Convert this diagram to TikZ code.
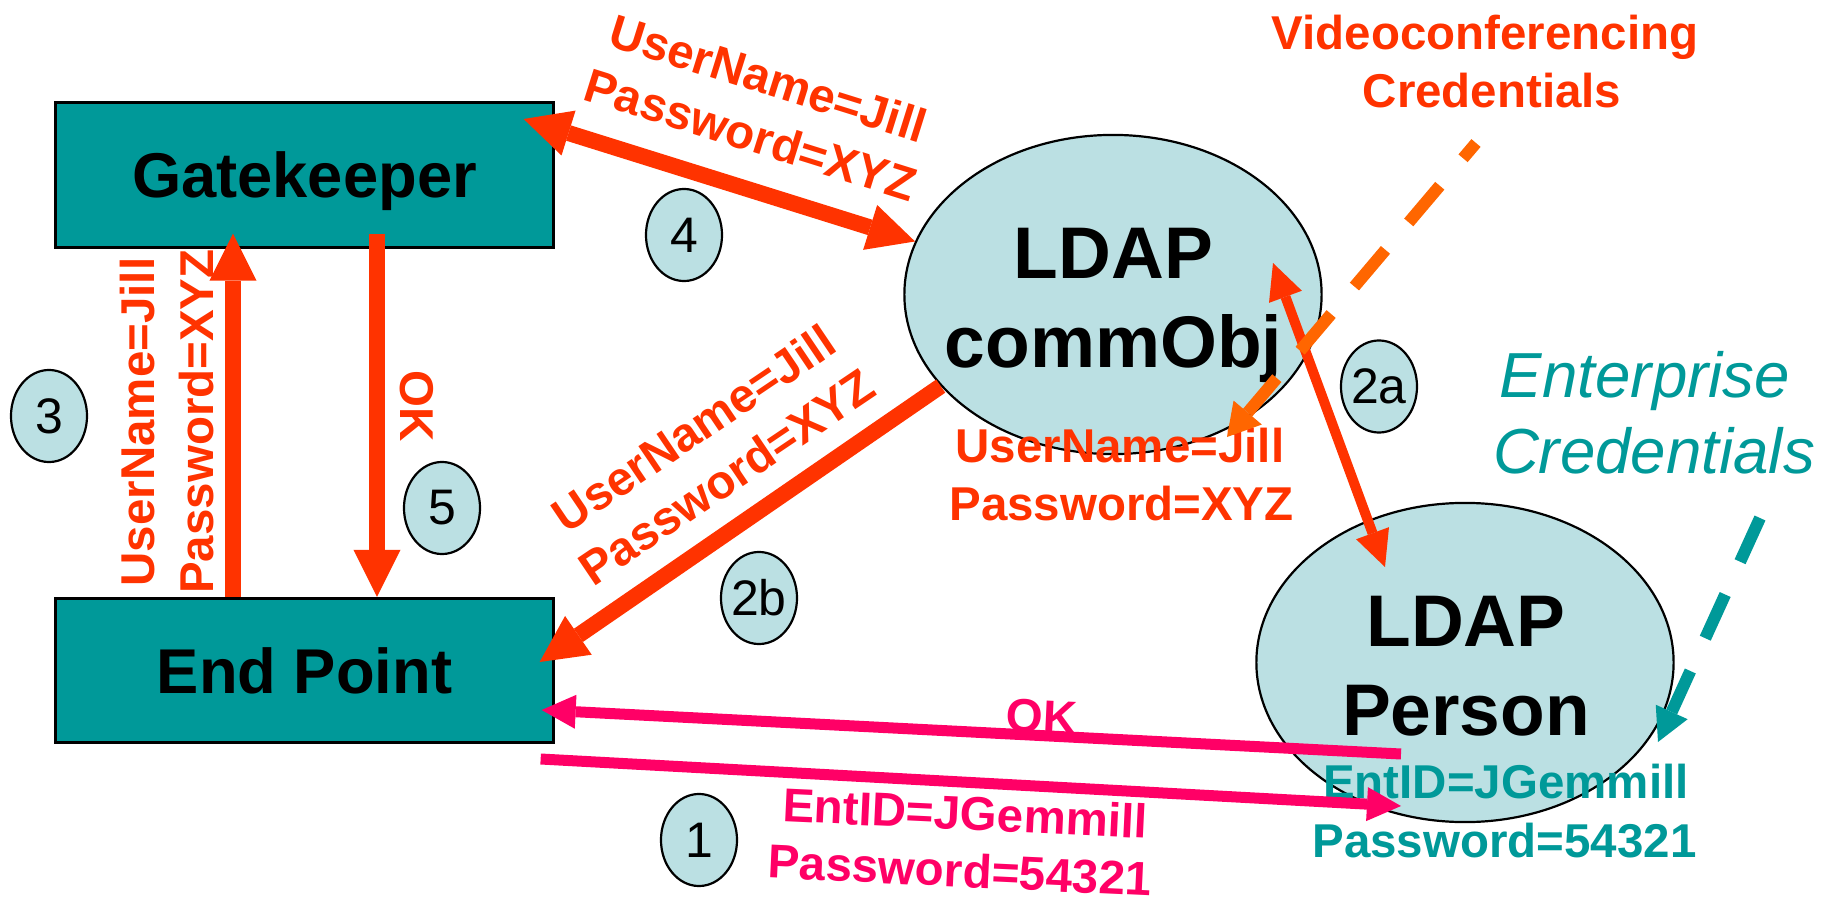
\documentclass[tikz,border=0pt]{standalone}
\usepackage{fontspec}
\setmainfont{Liberation Sans}
\usetikzlibrary{arrows.meta,shapes.geometric}

\definecolor{tealbox}{HTML}{009999}
\definecolor{ldapfill}{HTML}{BBE0E3}
\definecolor{redarr}{HTML}{FF3300}
\definecolor{orangearr}{HTML}{FF6600}
\definecolor{pinkarr}{HTML}{FF0066}

\begin{document}
\begin{tikzpicture}[x=0.01cm,y=-0.01cm,
  box/.style={draw=black, line width=0.03cm, fill=tealbox, minimum width=4.97cm,
    minimum height=1.44cm, inner sep=0pt, text depth=0pt,
    font=\fontsize{18pt}{22pt}\selectfont\bfseries},
  ldapell/.style={ellipse, draw=black, line width=0.022cm, fill=ldapfill,
    minimum width=4.17cm, minimum height=3.19cm, inner sep=0pt},
  numell/.style={ellipse, draw=black, line width=0.022cm, fill=ldapfill,
    minimum width=0.76cm, minimum height=0.92cm, inner sep=0pt},
  numtxt/.style={inner sep=0pt, font=\fontsize{14.2pt}{17pt}\selectfont},
  bigtxt/.style={inner sep=0pt, anchor=base, font=\fontsize{20.8pt}{25pt}\selectfont\bfseries},
  lbl/.style={inner sep=0pt, anchor=base, font=\fontsize{13.5pt}{16pt}\selectfont\bfseries},
  enttxt/.style={inner sep=0pt, anchor=base, text=tealbox, font=\fontsize{18.1pt}{22pt}\selectfont\itshape},
  redthick/.style={draw=redarr, line width=0.16cm,
    -{Triangle[length=0.47cm,width=0.47cm,line width=0pt]}},
  redboth/.style={draw=redarr, line width=0.16cm,
    {Triangle[length=0.47cm,width=0.47cm,line width=0pt]}-{Triangle[length=0.47cm,width=0.47cm,line width=0pt]}},
  redthin/.style={draw=redarr, line width=0.10cm,
    {Triangle[length=0.36cm,width=0.35cm,line width=0pt]}-{Triangle[length=0.36cm,width=0.35cm,line width=0pt]}},
  pinkline/.style={draw=pinkarr, line width=0.11cm,
    -{Triangle[length=0.34cm,width=0.34cm,line width=0pt]}},
  orangedash/.style={draw=orangearr, line width=0.12cm,
    dash pattern=on 0.48cm off 0.36cm, dash phase=0.28cm,
    -{Triangle[length=0.32cm,width=0.37cm,line width=0pt]}},
  tealdash/.style={draw=tealbox, line width=0.12cm,
    dash pattern=on 0.48cm off 0.36cm,
    -{Triangle[length=0.33cm,width=0.35cm,line width=0pt]}}
]
\useasboundingbox (0,0) rectangle (1838,900);
\fill[white] (0,0) rectangle (1838,900);

% boxes
\node[box] (gk) at (304.5,175) {Gatekeeper};
\node[box] (ep) at (304.5,670.5) {End Point};

% LDAP objects
\node[ldapell] (cobj) at (1113,294.5) {};
\node[bigtxt] (cobjA) at (1113.5,278) {LDAP};
\node[bigtxt] (cobjB) at (1113.5,367) {commObj};

\node[ldapell] (pers) at (1465,662.5) {};
\node[bigtxt] (persA) at (1466,646) {LDAP};
\node[bigtxt] (persB) at (1466,735) {Person};

% free ends of the dashed pointers
\coordinate (vcTail) at (1476,143);
\coordinate (entTail) at (1760,518);

% message arrows
\draw[redthick] ([shift={(-71.5,0)}]ep.north) -- ([shift={(-71.5,-15)}]gk.south);
\draw[redthick] ([shift={(72.5,-15)}]gk.south) -- ([shift={(72.5,0)}]ep.north);
\draw[redboth] ([shift={(-31,-56)}]gk.east) -- (cobj.165);
\draw[redthick] (cobj.208) -- ([shift={(-15,-8.5)}]ep.east);
\draw[redthin] ([shift={(160,-31.5)}]cobj.center) -- ([shift={(-80,-95.5)}]pers.center);

% labels
\node[lbl, text=redarr, rotate=90] (l3a) at (154,422) {UserName=Jill};
\node[lbl, text=redarr, rotate=90] (l3b) at (213,421.5) {Password=XYZ};
\node[lbl, text=redarr, rotate=-90] (l5) at (400,406) {OK};
\node[lbl, text=redarr, rotate=-17.4] (l4a) at (763.6,94.2) {UserName=Jill};
\node[lbl, text=redarr, rotate=-17.4] (l4b) at (746,150.5) {Password=XYZ};
\node[lbl, text=redarr, rotate=34] (l2ba) at (702.9,442.2) {UserName=Jill};
\node[lbl, text=redarr, rotate=34] (l2bb) at (736.3,490.8) {Password=XYZ};
\node[lbl, text=redarr] (lca) at (1120,462) {UserName=Jill};
\node[lbl, text=redarr] (lcb) at (1121.5,520) {Password=XYZ};
\node[lbl, text=redarr] (vca) at (1485,50) {Videoconferencing};
\node[lbl, text=redarr] (vcb) at (1492,107) {Credentials};
\node[enttxt] (enta) at (1645,397) {Enterprise};
\node[enttxt] (entb) at (1654,473) {Credentials};
\node[lbl, text=tealbox] (lpa) at (1506,798) {EntID=JGemmill};
\node[lbl, text=tealbox] (lpb) at (1504.5,857) {Password=54321};

% dashed pointers
\draw[orangedash] (vcTail) -- ([shift={(114,142.5)}]cobj.center);
\draw[tealdash] (entTail) -- ([shift={(193,79.5)}]pers.center);

% enterprise login exchange
\draw[pinkline] ([shift={(-64,91.5)}]pers.center) -- ([shift={(-13,39.5)}]ep.east);
\draw[pinkline] ([shift={(-14,88.5)}]ep.east) -- ([shift={(-64,143.5)}]pers.center);
\node[lbl, text=pinkarr, rotate=-2.7] (lok) at (1041,733) {OK};
\node[lbl, text=pinkarr, rotate=-2.7] (l1a) at (964.5,830) {EntID=JGemmill};
\node[lbl, text=pinkarr, rotate=-2.7] (l1b) at (959,887) {Password=54321};

% step numbers
\node[numell] (n1) at (699,840) {};
\node[numtxt] (t1) at (n1) {1};
\node[numell] (n2a) at (1379,386.5) {};
\node[numtxt] (t2a) at (n2a) {2a};
\node[numell] (n2b) at (759,598) {};
\node[numtxt] (t2b) at (n2b) {2b};
\node[numell] (n3) at (49,416) {};
\node[numtxt] (t3) at (n3) {3};
\node[numell] (n4) at (684,235) {};
\node[numtxt] (t4) at (n4) {4};
\node[numell] (n5) at (442,508) {};
\node[numtxt] (t5) at (n5) {5};
\end{tikzpicture}
\end{document}
